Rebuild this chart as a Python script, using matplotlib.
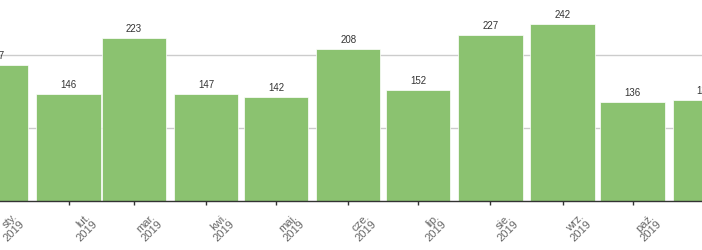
import datetime
import matplotlib
matplotlib.use('Agg')
import matplotlib.pyplot as plt
import matplotlib.dates as mdates

plt.rcParams['font.family'] = ['Liberation Sans', 'DejaVu Sans']

# monthly counts, 2019 (first and last bar cut off at the edges)
months = ['sty.', 'lut.', 'mar.', 'kwi.', 'maj.', 'cze.', 'lip.', 'sie.', 'wrz.', 'paź.', 'lis.']
year = 2019
values = [187, 146, 223, 147, 142, 208, 152, 227, 242, 136, 139]
grid_values = [100, 200]

dates = [datetime.date(year, m, 1) for m in range(1, len(months) + 1)]
x = mdates.date2num(dates)
start = mdates.date2num(datetime.date(year, 1, 1))

fig = plt.figure(figsize=(7.02, 2.51), dpi=100)
ax = fig.add_axes([0, 0.195, 1, 0.805])

ax.bar(x, values, width=27.6, color='#8bc270', edgecolor='white', linewidth=0.5, zorder=2)

ax.set_yticks(grid_values)
ax.yaxis.grid(True, color='#cccccc', linewidth=1)
ax.set_axisbelow(True)
ax.tick_params(axis='y', left=False, labelleft=False)

ax.set_xticks(x)
ax.tick_params(axis='x', length=3, width=1, color='#333333', labelbottom=False)

# limits after the ticks, set_xticks would widen them
ax.set_xlim(start + 1.6, start + 302.8)
ax.set_ylim(0, 276.7)

for side in ['top', 'left', 'right']:
    ax.spines[side].set_visible(False)
ax.spines['bottom'].set_color('#333333')
ax.spines['bottom'].set_linewidth(1)

# value labels above bars (edge ones get cut by the axes)
for xi, v in zip(x, values):
    ax.annotate(str(v), xy=(xi, v), xytext=(0, 5), textcoords='offset points',
                ha='center', va='baseline', fontsize=7, color='#333333',
                annotation_clip=False, clip_on=True)

# rotated month labels
for xi, m in zip(x, months):
    ax.annotate(f'{m}\n{year}', xy=(xi, 0), xycoords=('data', 'axes fraction'),
                xytext=(20.9, -16.2), textcoords='offset points',
                rotation=45, rotation_mode='anchor', ha='right', va='baseline',
                multialignment='right', fontsize=8, color='#666666',
                linespacing=1.0, annotation_clip=False)

fig.savefig('out.png', dpi=100)
